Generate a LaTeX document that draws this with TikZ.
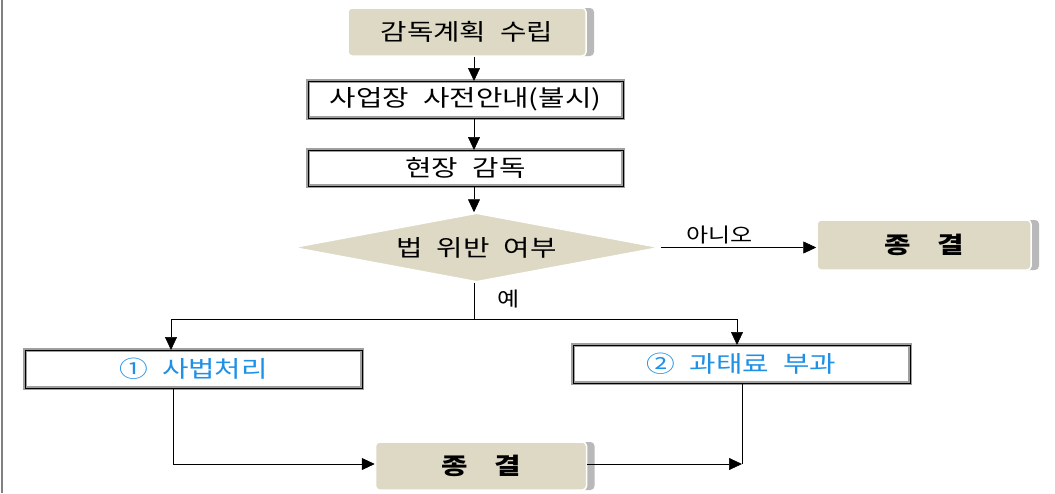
\documentclass[tikz,border=0pt]{standalone}
\usepackage{fontspec}
\usepackage{graphicx}
\setmainfont{Noto Sans CJK KR}
\newfontfamily\wkr[WordSpace=2.2]{Noto Sans CJK KR}
\newcommand{\wx}[1]{\scalebox{1.25}[1]{#1}}
\newcommand{\sx}[1]{\scalebox{1.2}[1]{#1}}
\usetikzlibrary{arrows.meta,shapes.geometric,shadows}
\definecolor{tan}{RGB}{221,217,196}
\definecolor{lblue}{RGB}{30,144,230}
\begin{document}
\begin{tikzpicture}[x=1pt,y=-1pt,
  tanbox/.style={rectangle, fill=tan, draw=white, line width=1.5pt, rounded corners=4pt, inner sep=0pt,
    general shadow={shadow xshift=8pt, shadow yshift=0pt, fill=gray!55}},
  dblbox/.style={rectangle, draw=black, line width=0.9pt, inner sep=0pt, outer sep=0pt,
    preaction={draw=gray!75, line width=3.6pt}},
  arr/.style={-{Triangle[length=13pt,width=12pt]}, line width=0.7pt},
  ln/.style={line width=0.7pt},
  lbl/.style={font=\wkr\fontsize{23}{26}\selectfont},
  bold/.style={font=\wkr\fontsize{23}{26}\selectfont\bfseries},
  sml/.style={font=\wkr\fontsize{20}{22}\selectfont}]
\useasboundingbox (0,0) rectangle (1055,493);
\fill[white] (0,0) rectangle (1055,493);
\draw[gray, line width=1.8pt] (2,0) -- (2,493);

\coordinate (spine) at (474,0);
\node[tanbox, lbl, minimum width=238pt, minimum height=48pt] (plan) at (467,32) {\wx{감독계획 수립}};
\node[dblbox, lbl, minimum width=315pt, minimum height=37pt] (notice) at (465.5,99.5) {\wx{사업장 사전안내(불시)}};
\node[dblbox, lbl, minimum width=315pt, minimum height=36pt] (site) at (465.5,168) {\wx{현장 감독}};
\node[diamond, aspect=5.3, fill=tan, draw=white, line width=1.5pt, inner sep=0pt, minimum width=367pt, minimum height=69pt, lbl] (dia) at (476.5,247.5) {\wx{법 위반 여부}};
\node[tanbox, bold, minimum width=214pt, minimum height=50pt] (endR) at (924,245) {\wx{종\hspace{21pt}결}};
\node[dblbox, lbl, text=lblue, minimum width=337pt, minimum height=38pt] (p1) at (193.5,369) {\wx{① 사법처리}};
\node[dblbox, lbl, text=lblue, minimum width=337pt, minimum height=38pt] (p2) at (741.5,364) {\wx{② 과태료 부과}};
\node[tanbox, bold, minimum width=211pt, minimum height=48pt] (endB) at (481,466) {\wx{종\hspace{21pt}결}};

\draw[arr] (plan.south -| spine) -- (notice.north -| spine);
\draw[arr] (notice.south -| spine) -- (site.north -| spine);
\draw[arr] (site.south -| spine) -- (dia.north -| spine);

\draw[arr] (dia.east) -- node[sml, above=0pt, pos=0.38] (no) {\sx{아니오}} (dia.east -| endR.west);

\coordinate (split) at (474,319);
\coordinate (lft) at (171,319);
\coordinate (rgt) at (737,319);
\draw[ln] (dia.south -| spine) -- (split) node[sml, pos=0.45, right=20pt] (yes) {\sx{예}};
\draw[ln] (lft) -- (rgt);
\draw[arr] (lft) -- (lft |- p1.north);
\draw[arr] (rgt) -- (rgt |- p2.north);

\coordinate (c1) at (173,464);
\coordinate (c2) at (742,464);
\draw[arr] (p1.south -| c1) -- (c1) -- (endB.west |- c1);
\draw[ln] (p2.south -| c2) -- (c2);
\draw[arr] (endB.east |- c2) -- (c2);
\end{tikzpicture}
\end{document}
